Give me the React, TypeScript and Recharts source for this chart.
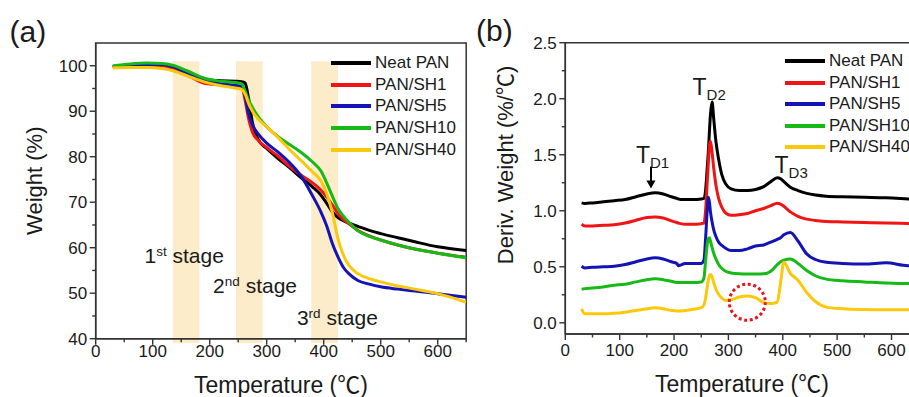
import React from 'react';
import { LineChart, Line, XAxis, YAxis, Legend, ReferenceArea, ReferenceDot } from 'recharts';

const FONT = '"Liberation Sans", Arial, "Noto Sans CJK SC", sans-serif';
const INK = '#1a1a1a';
const AXIS = '#333333';

const seriesKeys = ['neat', 'sh1', 'sh5', 'sh10', 'sh40'];
const seriesNames = ['Neat PAN', 'PAN/SH1', 'PAN/SH5', 'PAN/SH10', 'PAN/SH40'];
const seriesColors = ['#000000', '#f01414', '#1414b4', '#16b916', '#fcc80c'];

// (a) TGA: weight (%) against temperature (°C)
const tgaTemp = [30, 60, 90, 116, 135, 160, 192, 220, 245, 256, 262, 268, 275, 285, 300, 320, 340, 360, 380, 395, 405, 415, 425, 435, 445, 460, 480, 500, 530, 560, 600, 650];
const tgaNeat = [99.8, 100.1, 100.3, 100.3, 99.9, 98.6, 97.0, 96.7, 96.6, 96.5, 96.2, 93.0, 87.5, 83.8, 81.8, 79.6, 77.6, 75.4, 73.4, 71.6, 69.8, 67.9, 66.6, 65.9, 65.4, 64.7, 63.8, 63.1, 62.2, 61.3, 60.2, 59.4];
const tgaSh1 = [99.8, 100.0, 100.1, 100.0, 99.4, 98.0, 96.1, 95.8, 95.5, 95.3, 92.5, 88.5, 85.4, 83.6, 82.0, 80.1, 77.9, 76.0, 74.3, 72.7, 71.2, 69.4, 67.5, 66.1, 65.2, 63.8, 62.6, 61.7, 60.6, 59.7, 58.8, 57.9];
const tgaSh5 = [99.8, 100.1, 100.3, 100.3, 99.8, 98.4, 96.6, 96.0, 95.7, 95.4, 93.5, 89.5, 87.0, 85.0, 83.0, 81.0, 78.7, 75.8, 71.5, 67.9, 64.9, 61.0, 58.0, 55.6, 54.2, 52.8, 52.0, 51.4, 50.9, 50.5, 49.9, 49.1];
const tgaSh10 = [100.0, 100.4, 100.6, 100.5, 100.1, 98.9, 97.2, 96.6, 96.3, 96.0, 94.5, 92.5, 90.8, 88.8, 86.6, 84.4, 82.7, 81.0, 78.9, 76.9, 74.3, 71.4, 68.6, 66.9, 65.5, 63.7, 62.5, 61.7, 60.6, 59.7, 58.8, 57.8];
const tgaSh40 = [99.5, 99.6, 99.6, 99.4, 98.9, 97.8, 96.4, 95.6, 95.1, 94.8, 93.8, 91.8, 90.0, 88.3, 86.6, 84.2, 81.6, 79.2, 76.7, 74.7, 72.0, 67.8, 62.0, 58.2, 56.0, 54.3, 53.2, 52.5, 51.6, 50.9, 49.9, 48.0];

// (b) DTG: derivative weight (%/°C) against temperature (°C)
const dtgTemp = [30, 36, 50, 70, 90, 110, 130, 150, 165, 180, 195, 205, 208, 212, 220, 235, 250, 255, 258, 261, 263, 265, 267, 270, 273, 277, 282, 288, 295, 305, 320, 335, 350, 365, 378, 390, 396, 402, 414, 428, 444, 460, 480, 510, 550, 590, 630, 650];
const dtgNeat = [1.07, 1.065, 1.07, 1.08, 1.09, 1.1, 1.125, 1.15, 1.16, 1.15, 1.125, 1.11, 1.105, 1.1, 1.1, 1.1, 1.105, 1.11, 1.18, 1.38, 1.52, 1.7, 1.86, 1.97, 1.82, 1.62, 1.46, 1.32, 1.24, 1.195, 1.18, 1.18, 1.19, 1.215, 1.26, 1.295, 1.285, 1.26, 1.21, 1.18, 1.155, 1.14, 1.13, 1.125, 1.12, 1.115, 1.105, 1.1];
const dtgSh1 = [0.88, 0.865, 0.865, 0.87, 0.875, 0.89, 0.915, 0.94, 0.945, 0.935, 0.91, 0.895, 0.89, 0.885, 0.88, 0.88, 0.885, 0.89, 1.0, 1.25, 1.42, 1.58, 1.62, 1.52, 1.38, 1.23, 1.11, 1.03, 0.98, 0.96, 0.965, 0.975, 1.0, 1.02, 1.045, 1.068, 1.06, 1.04, 0.99, 0.95, 0.925, 0.913, 0.905, 0.9, 0.895, 0.89, 0.887, 0.885];
const dtgSh5 = [0.505, 0.49, 0.495, 0.5, 0.505, 0.52, 0.545, 0.57, 0.58, 0.57, 0.545, 0.53, 0.51, 0.515, 0.53, 0.53, 0.53, 0.56, 0.75, 1.0, 1.12, 1.08, 0.99, 0.9, 0.83, 0.77, 0.72, 0.69, 0.665, 0.645, 0.645, 0.66, 0.685, 0.695, 0.72, 0.745, 0.76, 0.785, 0.805, 0.73, 0.615, 0.565, 0.54, 0.53, 0.525, 0.535, 0.51, 0.51];
const dtgSh10 = [0.3, 0.305, 0.31, 0.32, 0.335, 0.345, 0.365, 0.385, 0.393, 0.385, 0.37, 0.36, 0.36, 0.36, 0.36, 0.36, 0.365, 0.4, 0.55, 0.7, 0.75, 0.76, 0.73, 0.67, 0.62, 0.57, 0.52, 0.485, 0.46, 0.445, 0.437, 0.435, 0.435, 0.437, 0.46, 0.52, 0.545, 0.56, 0.57, 0.53, 0.467, 0.42, 0.39, 0.375, 0.365, 0.355, 0.35, 0.35];
const dtgSh40 = [0.125, 0.08, 0.08, 0.08, 0.085, 0.095, 0.11, 0.125, 0.134, 0.125, 0.11, 0.105, 0.105, 0.105, 0.11, 0.12, 0.135, 0.16, 0.22, 0.32, 0.38, 0.42, 0.43, 0.41, 0.36, 0.3, 0.255, 0.22, 0.2, 0.205, 0.23, 0.24, 0.225, 0.18, 0.172, 0.185, 0.36, 0.54, 0.44, 0.38, 0.27, 0.19, 0.14, 0.125, 0.118, 0.116, 0.116, 0.116];

const tempTicks = [0, 50, 100, 150, 200, 250, 300, 350, 400, 450, 500, 550, 600, 650];
const tempMajor = [0, 100, 200, 300, 400, 500, 600];
const weightTicks = [40, 45, 50, 55, 60, 65, 70, 75, 80, 85, 90, 95, 100];
const weightMajor = [40, 50, 60, 70, 80, 90, 100];
const derivTicks = [0, 0.25, 0.5, 0.75, 1, 1.25, 1.5, 1.75, 2, 2.25, 2.5];
const derivMajor = [0, 0.5, 1, 1.5, 2, 2.5];

// temperature windows of the three degradation stages
const stageBands = [[135, 182], [246, 293], [378, 425]];

const buildRows = (temps: number[], cols: number[][]) =>
  temps.map((t, i) => {
    const row: any = { t };
    seriesKeys.forEach((k, j) => (row[k] = cols[j][i]));
    return row;
  });

const tgaRows = buildRows(tgaTemp, [tgaNeat, tgaSh1, tgaSh5, tgaSh10, tgaSh40]);
const dtgRows = buildRows(dtgTemp, [dtgNeat, dtgSh1, dtgSh5, dtgSh10, dtgSh40]);

const XTick = ({ x, y, payload, majors, labelDy }: any) => {
  const major = majors.includes(payload.value);
  return (
    <g>
      <line x1={x} x2={x} y1={y} y2={y + (major ? 6 : 3.5)} stroke={AXIS} strokeWidth={1.4} />
      {major && (
        <text x={x} y={y + labelDy} textAnchor="middle" fontFamily={FONT} fontSize={17} fill={INK}>
          {payload.value}
        </text>
      )}
    </g>
  );
};

const YTick = ({ x, y, payload, majors, digits }: any) => {
  const major = majors.includes(payload.value);
  return (
    <g>
      <line x1={x} x2={x - (major ? 6 : 3.5)} y1={y} y2={y} stroke={AXIS} strokeWidth={1.4} />
      {major && (
        <text x={x - 8.5} y={y} dy="0.36em" textAnchor="end" fontFamily={FONT} fontSize={17} fill={INK}>
          {payload.value.toFixed(digits)}
        </text>
      )}
    </g>
  );
};

// keep legend rows in series order rather than sorted by name
const LegendList = ({ payload }: any) => {
  const items = [...(payload || [])].sort(
    (a: any, b: any) => seriesNames.indexOf(a.value) - seriesNames.indexOf(b.value)
  );
  return (
    <div style={{ fontFamily: FONT, fontSize: 17, color: INK }}>
      {items.map((p: any) => (
        <div key={p.value} style={{ display: 'flex', alignItems: 'center', height: 21.6, whiteSpace: 'nowrap' }}>
          <span style={{ display: 'inline-block', width: 40, height: 4, background: p.color, marginRight: 4 }} />
          <span>{p.value}</span>
        </div>
      ))}
    </div>
  );
};

const StageLabel = ({ cx, cy, num, sup }: any) => (
  <text x={cx} y={cy} fontFamily={FONT} fontSize={21} fill={INK}>
    {num}
    <tspan fontSize={13.5} dy={-7}>{sup}</tspan>
    <tspan dy={7}>{' stage'}</tspan>
  </text>
);

const PeakLabel = ({ cx, cy, sub }: any) => (
  <text x={cx} y={cy} fontFamily={FONT} fontSize={23} fill={INK}>
    T<tspan fontSize={15} dy={5}>{sub}</tspan>
  </text>
);

const DownArrow = ({ cx, cy }: any) => (
  <g>
    <line x1={cx} x2={cx} y1={cy - 22} y2={cy - 7} stroke="#000" strokeWidth={2} />
    <polygon points={`${cx - 4.5},${cy - 8} ${cx + 4.5},${cy - 8} ${cx},${cy}`} fill="#000" />
  </g>
);

const seriesLines = () =>
  seriesKeys.map((k, i) => (
    <Line
      key={k}
      type="monotone"
      dataKey={k}
      name={seriesNames[i]}
      stroke={seriesColors[i]}
      strokeWidth={3}
      dot={false}
      activeDot={false}
      strokeLinejoin="round"
      isAnimationActive={false}
    />
  ));

export default function App() {
  return (
    <div style={{ position: 'absolute', left: 0, top: 0, width: 909, height: 397, overflow: 'hidden', background: '#fff' }}>
      <div style={{ position: 'absolute', left: 0, top: 0 }}>
        <LineChart width={470} height={397} data={tgaRows} margin={{ top: 43, right: 3.8, bottom: 0, left: 0 }}>
          {stageBands.map(([a, b]) => (
            <ReferenceArea key={a} x1={a} x2={b} y1={39} y2={101} fill="#fdecca" fillOpacity={1} stroke="none" ifOverflow="visible" />
          ))}
          <XAxis
            dataKey="t"
            type="number"
            domain={[0, 650]}
            ticks={tempTicks}
            interval={0}
            allowDataOverflow
            height={58.3}
            tickSize={0}
            tickMargin={0}
            tickLine={false}
            axisLine={{ stroke: AXIS, strokeWidth: 1.5 }}
            tick={<XTick majors={tempMajor} labelDy={18.5} />}
          />
          <YAxis
            type="number"
            domain={[40, 105]}
            ticks={weightTicks}
            interval={0}
            allowDataOverflow
            width={95.7}
            tickSize={0}
            tickMargin={0}
            tickLine={false}
            axisLine={{ stroke: AXIS, strokeWidth: 1.5 }}
            tick={<YTick majors={weightMajor} digits={0} />}
          />
          {seriesLines()}
          <ReferenceArea x1={0} x2={650} y1={40} y2={105} fill="none" stroke={AXIS} strokeWidth={1.5} />
          <ReferenceDot x={85.6} y={56.7} r={1} shape={(p: any) => <StageLabel cx={p.cx} cy={p.cy} num="1" sup="st" />} />
          <ReferenceDot x={206} y={50} r={1} shape={(p: any) => <StageLabel cx={p.cx} cy={p.cy} num="2" sup="nd" />} />
          <ReferenceDot x={353} y={43.1} r={1} shape={(p: any) => <StageLabel cx={p.cx} cy={p.cy} num="3" sup="rd" />} />
          <Legend
            layout="vertical"
            align="center"
            verticalAlign="middle"
            wrapperStyle={{ left: 331, top: 52.5, width: 'auto' }}
            content={<LegendList />}
          />
        </LineChart>
      </div>

      <div style={{ position: 'absolute', left: 470, top: 0 }}>
        <LineChart width={460} height={397} data={dtgRows} margin={{ top: 42.7, right: 11.3, bottom: 0, left: 0 }}>
          <XAxis
            dataKey="t"
            type="number"
            domain={[0, 650]}
            ticks={tempTicks}
            interval={0}
            allowDataOverflow
            height={63}
            tickSize={0}
            tickMargin={0}
            tickLine={false}
            axisLine={{ stroke: AXIS, strokeWidth: 1.5 }}
            tick={<XTick majors={tempMajor} labelDy={21.5} />}
          />
          <YAxis
            type="number"
            domain={[-0.1, 2.5]}
            ticks={derivTicks}
            interval={0}
            allowDataOverflow
            width={95.3}
            tickSize={0}
            tickMargin={0}
            tickLine={false}
            axisLine={{ stroke: AXIS, strokeWidth: 1.5 }}
            tick={<YTick majors={derivMajor} digits={1} />}
          />
          {seriesLines()}
          <ReferenceArea x1={0} x2={650} y1={-0.1} y2={2.5} fill="none" stroke={AXIS} strokeWidth={1.5} />
          <ReferenceDot x={130} y={1.422} r={1} shape={(p: any) => <PeakLabel cx={p.cx} cy={p.cy} sub="D1" />} />
          <ReferenceDot x={234} y={2.032} r={1} shape={(p: any) => <PeakLabel cx={p.cx} cy={p.cy} sub="D2" />} />
          <ReferenceDot x={384.8} y={1.335} r={1} shape={(p: any) => <PeakLabel cx={p.cx} cy={p.cy} sub="D3" />} />
          <ReferenceDot x={157.6} y={1.198} r={1} shape={(p: any) => <DownArrow cx={p.cx} cy={p.cy} />} />
          <ReferenceDot
            x={334.7}
            y={0.184}
            r={18}
            shape={(p: any) => (
              <circle cx={p.cx} cy={p.cy} r={18} fill="none" stroke="#e8141b" strokeWidth={3} strokeDasharray="3 2.65" />
            )}
          />
          <Legend
            layout="vertical"
            align="center"
            verticalAlign="middle"
            wrapperStyle={{ left: 315, top: 50.2, width: 'auto' }}
            content={<LegendList />}
          />
        </LineChart>
      </div>

      <svg width={909} height={397} style={{ position: 'absolute', left: 0, top: 0, pointerEvents: 'none' }}>
        <g fontFamily={FONT} fill={INK}>
          <text x={9.5} y={42} fontSize={30}>(a)</text>
          <text x={476} y={40.5} fontSize={30}>(b)</text>
          <text transform="translate(41.5,180.7) rotate(-90)" textAnchor="middle" fontSize={22}>Weight (%)</text>
          <text x={281} y={392.5} textAnchor="middle" fontSize={23}>Temperature (℃)</text>
          <text transform="translate(513,165) rotate(-90)" textAnchor="middle" fontSize={22}>Deriv. Weight (%/℃)</text>
          <text x={742} y={391.5} textAnchor="middle" fontSize={23}>Temperature (℃)</text>
        </g>
      </svg>
    </div>
  );
}
